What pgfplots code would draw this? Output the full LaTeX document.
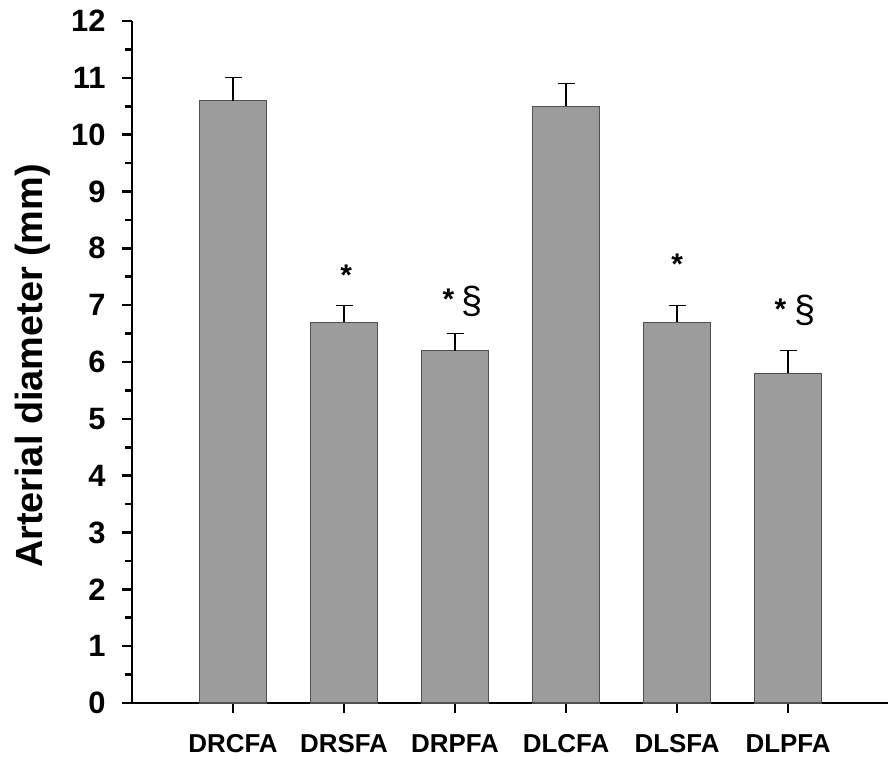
\documentclass[border=0pt]{standalone}
\usepackage{pgfplots}
\pgfplotsset{compat=1.18}
\usepackage{fontspec}
\setmainfont{Liberation Sans}
\definecolor{barg}{HTML}{9C9C9C}
\definecolor{bard}{HTML}{505050}
\begin{document}
\begin{tikzpicture}
\begin{axis}[
  scale only axis, width=756bp, height=682bp,
  xmin=-0.91, xmax=5.9, ymin=0, ymax=12,
  axis x line*=bottom, axis y line*=left,
  axis line style={line width=2.8bp, -},
  ytick={0,1,...,12}, minor y tick num=1,
  xtick={0,1,2,3,4,5},
  xticklabels={DRCFA,DRSFA,DRPFA,DLCFA,DLSFA,DLPFA},
  tick align=outside,
  major tick length=10bp, minor tick length=7bp,
  every tick/.style={line width=2.6bp, black},
  /pgf/number format/assume math mode=true,
  yticklabel style={font=\fontsize{31}{31}\selectfont\bfseries, xshift=-13bp},
  xticklabel style={font=\fontsize{26}{26}\selectfont\bfseries, anchor=base, inner sep=0pt, yshift=-40bp},
  ylabel={Arterial diameter (mm)},
  ylabel style={font=\fontsize{38}{38}\selectfont\bfseries, at={(rel axis cs:0,0.5)}, anchor=north, inner sep=0pt, yshift=117bp, xshift=-4bp},
  ybar, bar width=67bp, bar shift=0pt,
  clip=false,
]
\addplot[fill=barg, draw=bard, line width=1.2bp,
  error bars/.cd, y dir=plus, y explicit,
  error bar style={line width=1.3bp, black},
  error mark options={rotate=90, mark size=8.5bp, line width=1.3bp, black}]
coordinates {
  (0,10.6) +- (0,0.4)
  (1,6.7) +- (0,0.3)
  (2,6.2) +- (0,0.3)
  (3,10.5) +- (0,0.4)
  (4,6.7) +- (0,0.3)
  (5,5.8) +- (0,0.4)
};
\begin{scope}[every node/.style={font=\fontsize{30}{30}\selectfont\bfseries, anchor=base, inner sep=0pt}]
\node at (axis cs:1.02,7.34) {*};
\node at (axis cs:1.94,6.92) {*};
\node at (axis cs:4.0,7.54) {*};
\node at (axis cs:4.93,6.74) {*};
\end{scope}
\begin{scope}[every node/.style={font=\fontsize{38}{38}\selectfont, anchor=base, inner sep=0pt}]
\node at (axis cs:2.15,6.86) {§};
\node at (axis cs:5.15,6.70) {§};
\end{scope}
\end{axis}
\pgfresetboundingbox
\path ([xshift=-132bp,yshift=-54bp]current axis.south west) rectangle ([yshift=21bp]current axis.north east);
\end{tikzpicture}
\end{document}
